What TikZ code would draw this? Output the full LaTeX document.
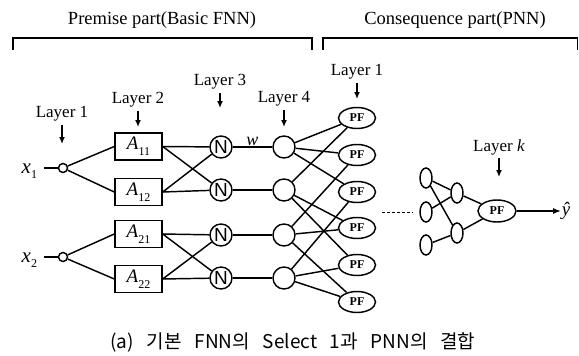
\documentclass[tikz,border=0pt]{standalone}
\usepackage{fontspec}
\setmainfont{Liberation Serif}
\newfontfamily\sansN{Liberation Sans}
\newfontfamily\kr[WordSpace=3]{Noto Sans CJK KR}
\usetikzlibrary{arrows.meta,shapes.geometric}
\newcommand{\mflabel}[1]{\itshape A\raisebox{-6pt}{\upshape\fontsize{12}{12}\selectfont #1}}
\begin{document}
\begin{tikzpicture}[x=1pt,y=-1pt,line width=1.45pt,
  title/.style={font=\fontsize{18.5}{18.5}\selectfont, inner sep=0pt},
  layerlab/.style={font=\fontsize{17}{17}\selectfont, inner sep=0pt},
  downarrow/.style={-{Latex[length=7pt,width=6pt]}, line width=1.3pt},
  inpt/.style={circle, draw, minimum size=9pt, inner sep=0pt},
  mfbox/.style={rectangle, draw, minimum width=47pt, minimum height=27pt, inner sep=0pt, font=\fontsize{19}{19}\selectfont},
  nnode/.style={circle, draw, minimum size=22pt, inner sep=0pt, font=\sansN\fontsize{19}{19}\selectfont},
  onode/.style={circle, draw, minimum size=22pt, inner sep=0pt},
  pfnode/.style={ellipse, draw, minimum width=37pt, minimum height=21pt, inner sep=0pt, font=\bfseries\fontsize{12}{12}\selectfont},
  tiny/.style={ellipse, draw, minimum width=12pt, minimum height=20pt, inner sep=0pt},
  bracket/.style={line width=1.3pt}
]
\useasboundingbox (0,0) rectangle (579,356);

% part titles and brackets
\node[title] (tprem) at (162,20) {Premise part(Basic FNN)};
\node[title] (tcons) at (455,20) {Consequence part(PNN)};
\coordinate (bp1) at (13,50);
\coordinate (bp2) at (312,50);
\coordinate (bc1) at (323,50);
\coordinate (bc2) at (577.5,50);
\draw[bracket] (bp1) |- (bp2 |- 0,38) -- (bp2);
\draw[bracket] (bc1) |- (bc2 |- 0,38) -- (bc2);

% inputs
\node[inpt] (in1) at (63,168) {};
\node[inpt] (in2) at (63,257) {};
\node[anchor=base west, inner sep=0pt, font=\fontsize{21}{21}\selectfont] (x1) at (21,173)
  {\itshape x\raisebox{-5pt}{\upshape\fontsize{12}{12}\selectfont 1}};
\node[anchor=base west, inner sep=0pt, font=\fontsize{21}{21}\selectfont] (x2) at (21,262)
  {\itshape x\raisebox{-5pt}{\upshape\fontsize{12}{12}\selectfont 2}};
\coordinate (x1end) at (44,168);
\coordinate (x2end) at (44,257);
\draw (x1end) -- (in1);
\draw (x2end) -- (in2);

% membership function boxes
\node[mfbox] (a11) at (138.5,146.5) {\mflabel{11}};
\node[mfbox] (a12) at (138.5,192) {\mflabel{12}};
\node[mfbox] (a21) at (138.5,234) {\mflabel{21}};
\node[mfbox] (a22) at (138.5,279) {\mflabel{22}};

% normalisation nodes and layer 4 nodes
\node[nnode] (n1) at (221,147) {N};
\node[nnode] (n2) at (221,190) {N};
\node[nnode] (n3) at (221,235) {N};
\node[nnode] (n4) at (221,278) {N};
\node[onode] (c1) at (284,147) {};
\node[onode] (c2) at (284,190) {};
\node[onode] (c3) at (284,235) {};
\node[onode] (c4) at (284,278) {};

% PF nodes of the first PNN layer
\node[pfnode] (p1) at (357,118) {PF};
\node[pfnode] (p2) at (357,155) {PF};
\node[pfnode] (p3) at (357,192) {PF};
\node[pfnode] (p4) at (357,228) {PF};
\node[pfnode] (p5) at (357,265) {PF};
\node[pfnode] (p6) at (357,302) {PF};

% later PNN layers
\coordinate (d1) at (382,212);
\coordinate (d2) at (413,212);
\draw[line width=1pt, dash pattern=on 3pt off 2pt] (d1) -- (d2);
\node[tiny] (e1) at (426,178) {};
\node[tiny] (e2) at (426,212) {};
\node[tiny] (e3) at (426,245) {};
\node[tiny] (e4) at (457,193) {};
\node[tiny] (e5) at (457,233) {};
\node[pfnode, minimum width=38pt, minimum height=22pt] (pk) at (497,211) {PF};
\node[inner sep=0pt, font=\fontsize{19}{19}\selectfont] (yhat) at (566,211) {\itshape\^{y}};

% connections
\draw (in1) -- (a11.west);
\draw (in1) -- (a12.west);
\draw (in2) -- (a21.west);
\draw (in2) -- (a22.west);
\foreach \a in {a11,a12} \foreach \n in {n1,n2} \draw (\a.east) -- (\n);
\foreach \a in {a21,a22} \foreach \n in {n3,n4} \draw (\a.east) -- (\n);
\draw (n1) -- node[above=1pt, font=\itshape\fontsize{18}{18}\selectfont, inner sep=0pt] (wlab) {w} (c1);
\draw (n2) -- (c2);
\draw (n3) -- (c3);
\draw (n4) -- (c4);
\foreach \c/\p in {c1/p1,c1/p2,c1/p3,c2/p1,c2/p4,c2/p5,c3/p2,c3/p4,c3/p6,c4/p3,c4/p5,c4/p6}
  \draw (\c) -- (\p);
\foreach \s/\t in {e1/e4,e1/e5,e2/e4,e3/e5,e4/pk,e5/pk}
  \draw (\s) -- (\t);
\draw[-{Latex[length=8pt,width=6pt]}] (pk) -- (yhat.west);

% layer labels
\node[layerlab] (l1) at (62,114) {Layer 1};
\node[layerlab] (l2) at (138,100) {Layer 2};
\node[layerlab] (l3) at (220,82) {Layer 3};
\node[layerlab] (l4) at (284,99) {Layer 4};
\node[layerlab] (l5) at (357,72) {Layer 1};
\node[layerlab] (lk) at (499,147) {Layer \textit{k}};
\draw[downarrow] (l1.south) ++(0,3) coordinate (t1) -- (t1 |- 0,144);
\draw[downarrow] (l2.south) ++(0,3) coordinate (t2) -- (t2 |- 0,127);
\draw[downarrow] (l3.south) ++(0,3) coordinate (t3) -- (t3 |- 0,108);
\draw[downarrow] (l4.south) ++(0,3) coordinate (t4) -- (t4 |- 0,127);
\draw[downarrow] (l5.south) ++(0,3) coordinate (t5) -- (t5 |- 0,99);
\draw[downarrow] (lk.south) ++(0,3) coordinate (tk) -- (tk |- 0,177);

% caption
\node[font=\kr\fontsize{19}{19}\selectfont, inner sep=0pt] (cap) at (293,342) {(a) 기본 FNN의 Select 1과 PNN의 결합};
\end{tikzpicture}
\end{document}
